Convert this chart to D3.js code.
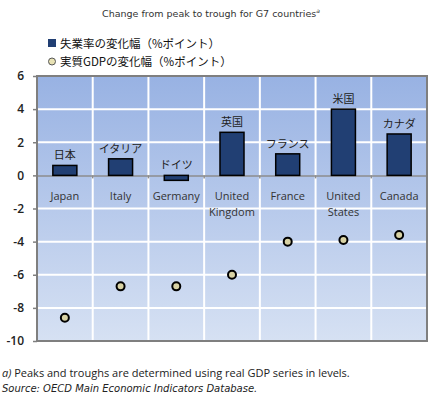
<!DOCTYPE html>
<html><head><meta charset="utf-8">
<script src="https://cdn.jsdelivr.net/npm/d3@7"></script>
<style>body{margin:0;background:#fff}svg{display:block}</style>
</head><body>
<script>
const countries = ["Japan","Italy","Germany","United Kingdom","France","United States","Canada"];
const jpLabels = ["日本","イタリア","ドイツ","英国","フランス","米国","カナダ"];
const unemployment = [0.6, 1.0, -0.3, 2.6, 1.3, 4.0, 2.5];
const gdp = [-8.6, -6.7, -6.7, -6.0, -4.0, -3.9, -3.6];
const yTicks = [6,4,2,0,-2,-4,-6,-8,-10];

const W=444,H=396;
const m={l:37,r:17,t:76,b:55};
const svg=d3.select("body").append("svg").attr("width",W).attr("height",H);
const x=d3.scaleBand().domain(countries).range([m.l,W-m.r]);
const y=d3.scaleLinear().domain([-10,6]).range([H-m.b,m.t]);

const defs=svg.append("defs");
const g=defs.append("linearGradient").attr("id","bg").attr("x1",0).attr("y1",0).attr("x2",0).attr("y2",1);
g.append("stop").attr("offset","0%").attr("stop-color","#98b2e3");
g.append("stop").attr("offset","100%").attr("stop-color","#d6e1f3");

svg.append("rect").attr("x",m.l).attr("y",m.t).attr("width",W-m.r-m.l).attr("height",H-m.b-m.t).attr("fill","url(#bg)");

// grid
svg.append("g").selectAll("line").data(yTicks.filter(d=>d!==0&&d!==6&&d!==-10)).join("line")
 .attr("x1",m.l).attr("x2",W-m.r).attr("y1",d=>y(d)).attr("y2",d=>y(d)).attr("stroke","#fff").attr("stroke-width",2);
svg.append("g").selectAll("line").data(countries.slice(1)).join("line")
 .attr("x1",d=>x(d)).attr("x2",d=>x(d)).attr("y1",m.t).attr("y2",H-m.b).attr("stroke","#fff").attr("stroke-width",2);

// zero axis
const xAxis=svg.append("g").attr("transform",`translate(0,${y(0)})`)
 .call(d3.axisBottom(x).tickSize(0).tickFormat(""));
xAxis.select(".domain").attr("stroke","#8c8c8c").attr("stroke-width",1.5);
svg.append("g").selectAll("line").data(countries.slice(1)).join("line")
 .attr("x1",d=>x(d)).attr("x2",d=>x(d)).attr("y1",y(0)).attr("y2",y(0)+3).attr("stroke","#8c8c8c").attr("stroke-width",1.5);

// bars
const bw=24;
svg.append("g").selectAll("rect").data(unemployment).join("rect")
 .attr("x",(d,i)=>x(countries[i])+x.bandwidth()/2-bw/2)
 .attr("y",d=>y(Math.max(0,d)))
 .attr("width",bw)
 .attr("height",d=>Math.abs(y(d)-y(0)))
 .attr("fill","#213f73").attr("stroke","#000").attr("stroke-width",1.5);

// jp labels
svg.append("g").selectAll("text").data(jpLabels).join("text")
 .attr("x",(d,i)=>x(countries[i])+x.bandwidth()/2)
 .attr("y",(d,i)=>y(Math.max(0,unemployment[i]))-6)
 .attr("text-anchor","middle").attr("font-family","Noto Sans CJK JP").attr("font-size",11).attr("fill","#222")
 .text(d=>d);

// category labels
const cl=svg.append("g").selectAll("text").data(countries).join("text")
 .attr("x",d=>x(d)+x.bandwidth()/2).attr("y",y(0)+25)
 .attr("text-anchor","middle").attr("font-family","Open Sans").attr("font-size",11).attr("fill","#333");
cl.each(function(d){
  const t=d3.select(this); const parts=d.split(" ");
  parts.forEach((p,i)=>t.append("tspan").attr("x",x(d)+x.bandwidth()/2).attr("dy",i?16:0).text(p));
});

// dots
svg.append("g").selectAll("circle").data(gdp).join("circle")
 .attr("cx",(d,i)=>x(countries[i])+x.bandwidth()/2).attr("cy",d=>y(d)).attr("r",4)
 .attr("fill","#d8d2a4").attr("stroke","#000").attr("stroke-width",2);

// border
svg.append("rect").attr("x",m.l).attr("y",m.t).attr("width",W-m.r-m.l).attr("height",H-m.b-m.t)
 .attr("fill","none").attr("stroke","#7f7f7f").attr("stroke-width",2);

// y axis
const ya=svg.append("g").attr("transform",`translate(${m.l},0)`)
 .call(d3.axisLeft(y).tickValues(yTicks).tickSize(4).tickPadding(9).tickFormat(d=>String(d)));
ya.select(".domain").remove();
ya.selectAll("line").attr("stroke","#7f7f7f").attr("stroke-width",1.5);
ya.selectAll("text").attr("font-family","Open Sans").attr("font-size",12).attr("fill","#222").style("font-weight","600");

// title
const tt=svg.append("text").attr("x",211).attr("y",17).attr("text-anchor","middle")
 .attr("font-family","DejaVu Sans").attr("font-size",9.5).attr("fill","#333");
tt.append("tspan").text("Change from peak to trough for G7 countries");
tt.append("tspan").attr("dy",-4).attr("font-size",6).attr("font-style","italic").text("a");

// legend
svg.append("rect").attr("x",48).attr("y",39).attr("width",8).attr("height",8).attr("fill","#213f73");
svg.append("text").attr("x",60).attr("y",47.5).attr("font-family","Noto Sans CJK JP").attr("font-size",11.5).attr("fill","#111").text("失業率の変化幅（%ポイント）");
svg.append("circle").attr("cx",52).attr("cy",61.5).attr("r",3.5).attr("fill","#e8e2b4").attr("stroke","#555").attr("stroke-width",1);
svg.append("text").attr("x",60).attr("y",66).attr("font-family","Noto Sans CJK JP").attr("font-size",11.5).attr("fill","#111").text("実質GDPの変化幅（%ポイント）");

// footnotes
const f1=svg.append("text").attr("x",2).attr("y",377).attr("font-family","Open Sans").attr("font-size",11).attr("fill","#222");
f1.append("tspan").attr("font-style","italic").text("a)");
f1.append("tspan").text(" Peaks and troughs are determined using real GDP series in levels.");
svg.append("text").attr("x",2).attr("y",392).attr("font-family","DejaVu Sans").attr("font-size",10).attr("font-style","italic").attr("fill","#222")
 .text("Source: OECD Main Economic Indicators Database.");
</script>
</body></html>
